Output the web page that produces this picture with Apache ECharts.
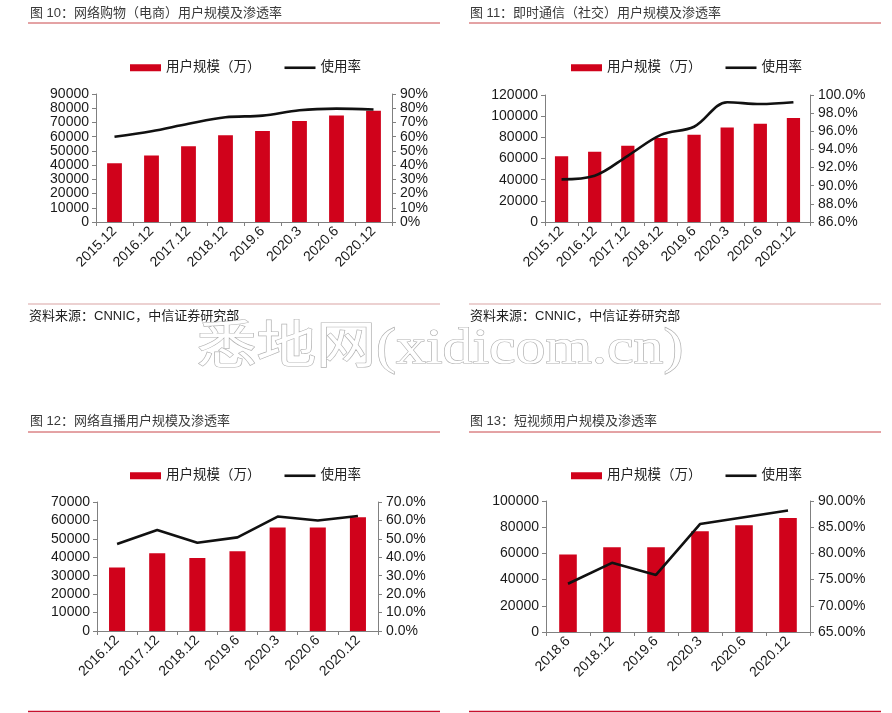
<!DOCTYPE html>
<html><head><meta charset="utf-8">
<script src="https://cdn.jsdelivr.net/npm/echarts@6/dist/echarts.min.js"></script>
<style>html,body{margin:0;padding:0;background:#fff}#c{width:892px;height:713px}</style>
</head><body><div id="c"></div>
<script>
// ---- data ----
var cats1 = ['2015.12','2016.12','2017.12','2018.12','2019.6','2020.3','2020.6','2020.12'];
var users1 = [41300, 46700, 53300, 61000, 63900, 71000, 74900, 78200];
var rate1 = [60.0, 63.8, 69.1, 73.6, 74.8, 78.6, 79.7, 79.1];

var cats2 = ['2015.12','2016.12','2017.12','2018.12','2019.6','2020.3','2020.6','2020.12'];
var users2 = [62200, 66400, 72000, 79300, 82500, 89400, 92900, 98300];
var rate2 = [90.7, 91.1, 93.3, 95.6, 96.5, 99.2, 99.0, 99.2];

var cats3 = ['2016.12','2017.12','2018.12','2019.6','2020.3','2020.6','2020.12'];
var users3 = [34400, 42200, 39600, 43300, 56100, 56200, 61700];
var rate3 = [47.2, 54.8, 47.9, 50.8, 62.1, 60.0, 62.4];

var cats4 = ['2018.6','2018.12','2019.6','2020.3','2020.6','2020.12'];
var users4 = [59100, 64700, 64700, 77000, 81500, 87100];
var rate4 = [74.2, 78.2, 75.9, 85.6, 86.9, 88.2];

var titles = ['图 10：网络购物（电商）用户规模及渗透率','图 11：即时通信（社交）用户规模及渗透率','图 12：网络直播用户规模及渗透率','图 13：短视频用户规模及渗透率'];
var sourceText = '资料来源：CNNIC，中信证券研究部';
var barName = '用户规模（万）', lineName = '使用率';
var watermark = '悉地网(xidicom.cn)';

// ---- layout / style ----
var FONT = "'Liberation Sans','Noto Sans CJK SC',sans-serif";
var RED = '#d0021b';
var AX = '#808080';
var panels = [
  {cats:cats1, users:users1, rate:rate1, grid:{left:96,top:94,width:296,height:128}, lmax:90000, lint:10000, rmin:0, rmax:90, rint:10, dec:0, smooth:true, legend:{left:125,top:56}},
  {cats:cats2, users:users2, rate:rate2, grid:{left:545,top:95,width:265,height:127}, lmax:120000, lint:20000, rmin:86, rmax:100, rint:2, dec:1, smooth:true, legend:{left:566,top:56}},
  {cats:cats3, users:users3, rate:rate3, grid:{left:97,top:502,width:281,height:129}, lmax:70000, lint:10000, rmin:0, rmax:70, rint:10, dec:1, smooth:false, legend:{left:125,top:464}},
  {cats:cats4, users:users4, rate:rate4, grid:{left:546,top:501,width:264,height:131}, lmax:100000, lint:20000, rmin:65, rmax:90, rint:5, dec:2, smooth:false, legend:{left:566,top:464}}
];

var grids=[], xAxes=[], yAxes=[], series=[], legends=[];
panels.forEach(function(p,i){
  grids.push(p.grid);
  xAxes.push({type:'category', gridIndex:i, data:p.cats, boundaryGap:true,
    axisLine:{lineStyle:{color:AX,width:1}},
    axisTick:{show:true, length:4, lineStyle:{color:AX}},
    axisLabel:{rotate:45, fontSize:14, color:'#1a1a1a', fontFamily:FONT, margin:7, interval:0}});
  yAxes.push({type:'value', gridIndex:i, min:0, max:p.lmax, interval:p.lint, position:'left',
    axisLine:{show:true,lineStyle:{color:AX}}, axisTick:{show:true,length:4,lineStyle:{color:AX}},
    splitLine:{show:false},
    axisLabel:{fontSize:14, color:'#1a1a1a', fontFamily:FONT, margin:7, formatter:function(v){return String(v);}}});
  yAxes.push({type:'value', gridIndex:i, min:p.rmin, max:p.rmax, interval:p.rint, position:'right',
    axisLine:{show:true,lineStyle:{color:AX}}, axisTick:{show:true,length:4,lineStyle:{color:AX}},
    splitLine:{show:false},
    axisLabel:{fontSize:14, color:'#1a1a1a', fontFamily:FONT, margin:8,
      formatter:(function(d){return function(v){return v.toFixed(d)+'%';};})(p.dec)}});
  series.push({type:'bar', name:barName, xAxisIndex:i, yAxisIndex:2*i, data:p.users, barWidth:'40%',
    itemStyle:{color:RED}, animation:false});
  series.push({type:'line', name:lineName, xAxisIndex:i, yAxisIndex:2*i+1, data:p.rate, smooth:p.smooth?0.35:false,
    symbol:'none', lineStyle:{color:'#111',width:2.6}, itemStyle:{color:'#111'}, animation:false});
  legends.push({left:p.legend.left, top:p.legend.top, itemWidth:31, itemHeight:7, itemGap:24,
    textStyle:{fontSize:13.5, color:'#222', fontFamily:FONT},
    data:[{name:barName, icon:'rect'},{name:lineName, icon:'path://M0,0L31,0L31,2.6L0,2.6Z', itemStyle:{color:'#111'}}]});
});

var graphics = [];
var tpos = [[30,15,28,440,23],[470,15,469,881,23],[30,423,28,440,432],[470,423,469,881,432]];
tpos.forEach(function(t,i){
  graphics.push({type:'text', left:t[0], top:t[1]-8, style:{text:titles[i], fontSize:13, fill:'#3a3a3a', fontFamily:FONT}});
  graphics.push({type:'line', shape:{x1:t[2],y1:t[4],x2:t[3],y2:t[4]}, style:{stroke:'#c9474a',lineWidth:1}});
});
// source lines (top panels)
[[28,440,29],[469,881,470]].forEach(function(s){
  graphics.push({type:'line', shape:{x1:s[0],y1:304,x2:s[1],y2:304}, style:{stroke:'#d9a3a3',lineWidth:1}});
  graphics.push({type:'text', left:s[2], top:310, style:{text:sourceText, fontSize:13, fill:'#222', fontFamily:FONT}});
});
// bottom lines (bottom panels)
[[28,440],[469,881]].forEach(function(s){
  graphics.push({type:'line', shape:{x1:s[0],y1:711.5,x2:s[1],y2:711.5}, style:{stroke:'#c8102e',lineWidth:1.5}});
});
// watermark
graphics.push({type:'text', x:440, y:350, scaleX:1.3, scaleY:1.1, style:{text:watermark, fontSize:46, fontFamily:"'Liberation Serif','Noto Sans CJK SC',serif",
  fill:'#ffffff', stroke:'#b0b0b0', lineWidth:1.1, align:'center', verticalAlign:'middle',
  shadowColor:'rgba(0,0,0,0.22)', shadowBlur:3, shadowOffsetX:1, shadowOffsetY:1}, z:100});

var chart = echarts.init(document.getElementById('c'), null, {renderer:'canvas'});
chart.setOption({
  animation:false,
  textStyle:{fontFamily:FONT},
  grid:grids, xAxis:xAxes, yAxis:yAxes, series:series, legend:legends, graphic:graphics
});
</script></body></html>
